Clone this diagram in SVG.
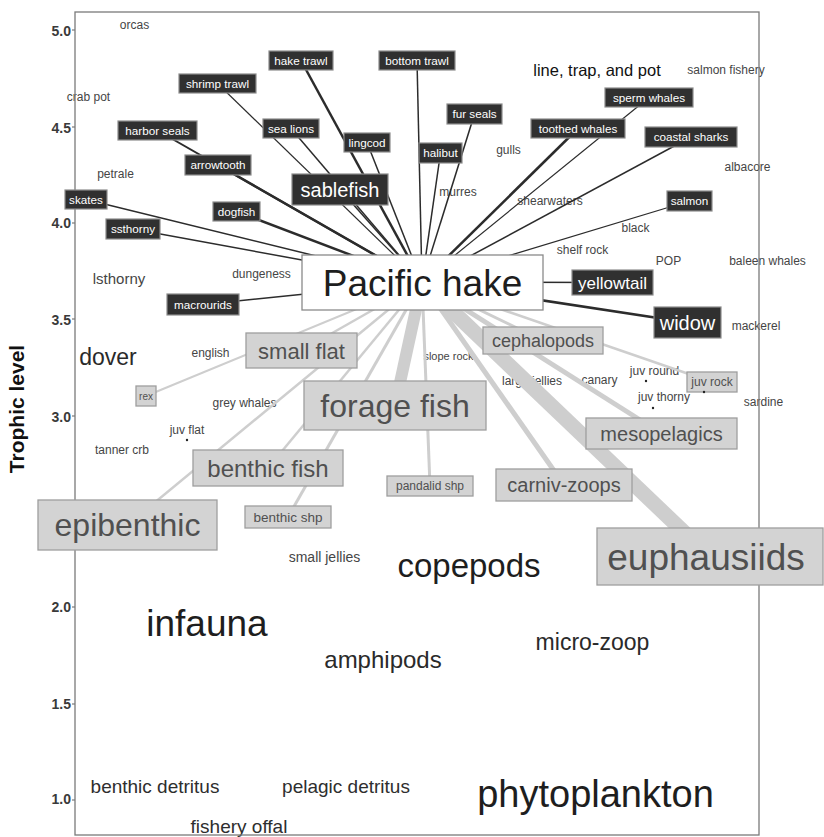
<svg xmlns="http://www.w3.org/2000/svg" width="824" height="837" viewBox="0 0 824 837">
<style>
text { font-family: "Liberation Sans", Arial, sans-serif; }
.lbl { fill:#454545; font-size:12px; text-anchor:middle; }
.big { fill:#1e1e1e; text-anchor:middle; }
.tick { fill:#3a3a3a; font-size:14px; font-weight:bold; text-anchor:end; }
.dk rect { fill:#303030; stroke:#8c8c8c; stroke-width:1.2; }
.dk text { fill:#ffffff; text-anchor:middle; }
.gr rect { fill:#d3d3d3; stroke:#9e9e9e; stroke-width:1.3; }
.gr text { fill:#505050; text-anchor:middle; }
.bl { stroke:#2c2c2c; fill:none; }
.gl { stroke:#cecece; fill:none; }
.frame { fill:none; stroke:#7a7a7a; stroke-width:1.3; }
</style>
<rect x="0" y="0" width="824" height="837" fill="#ffffff"/>

<g id="axis">
  <text class="tick" x="71" y="36">5.0</text>
  <text class="tick" x="71" y="132.5">4.5</text>
  <text class="tick" x="71" y="228">4.0</text>
  <text class="tick" x="71" y="325">3.5</text>
  <text class="tick" x="71" y="422">3.0</text>
  <text class="tick" x="71" y="612">2.0</text>
  <text class="tick" x="71" y="709">1.5</text>
  <text class="tick" x="71" y="804">1.0</text>
  <g stroke="#7a7a7a" stroke-width="1.2">
    <line x1="72" y1="30" x2="75" y2="30"/>
    <line x1="72" y1="127" x2="75" y2="127"/>
    <line x1="72" y1="223" x2="75" y2="223"/>
    <line x1="72" y1="319" x2="75" y2="319"/>
    <line x1="72" y1="416" x2="75" y2="416"/>
    <line x1="72" y1="607" x2="75" y2="607"/>
    <line x1="72" y1="704" x2="75" y2="704"/>
    <line x1="72" y1="800" x2="75" y2="800"/>
  </g>
  <text transform="translate(24,409) rotate(-90)" font-size="21" font-weight="bold" fill="#111" text-anchor="middle">Trophic level</text>
</g>

<g id="plain-labels">
  <g id="n-orcas"><text class="lbl" x="134.5" y="29">orcas</text></g>
  <g id="n-crab-pot"><text class="lbl" x="88.5" y="101">crab pot</text></g>
  <g id="n-petrale"><text class="lbl" x="115.5" y="178">petrale</text></g>
  <g id="n-lsthorny"><text class="lbl" x="119" y="284" style="font-size:15px">lsthorny</text></g>
  <g id="n-dungeness"><text class="lbl" x="261.5" y="278">dungeness</text></g>
  <g id="n-dover"><text class="lbl" x="108" y="365" style="font-size:23px;fill:#2a2a2a">dover</text></g>
  <g id="n-english"><text class="lbl" x="210.5" y="357">english</text></g>
  <g id="n-grey-whales"><text class="lbl" x="244.5" y="407">grey whales</text></g>
  <g id="n-juv-flat"><text class="lbl" x="187" y="434">juv flat</text><circle cx="187" cy="440" r="1.2" fill="#222"/></g>
  <g id="n-tanner-crb"><text class="lbl" x="122" y="454">tanner crb</text></g>
  <g id="n-gulls"><text class="lbl" x="508.5" y="154">gulls</text></g>
  <g id="n-murres"><text class="lbl" x="458" y="196">murres</text></g>
  <g id="n-shearwaters"><text class="lbl" x="550" y="205">shearwaters</text></g>
  <g id="n-salmon-fishery"><text class="lbl" x="726" y="74">salmon fishery</text></g>
  <g id="n-albacore"><text class="lbl" x="747.5" y="171">albacore</text></g>
  <g id="n-black"><text class="lbl" x="635.5" y="232">black</text></g>
  <g id="n-shelf-rock"><text class="lbl" x="582.5" y="254">shelf rock</text></g>
  <g id="n-pop"><text class="lbl" x="668.5" y="265">POP</text></g>
  <g id="n-baleen-whales"><text class="lbl" x="767.5" y="265">baleen whales</text></g>
  <g id="n-mackerel"><text class="lbl" x="756" y="330">mackerel</text></g>
  <g id="n-slope-rock"><text class="lbl" x="448.5" y="360" style="font-size:11px">slope rock</text></g>
  <g id="n-large-jellies"><text class="lbl" x="532" y="385">large jellies</text></g>
  <g id="n-canary"><text class="lbl" x="599.5" y="384">canary</text></g>
  <g id="n-juv-round"><text class="lbl" x="654.5" y="375">juv round</text><circle cx="646" cy="381" r="1.2" fill="#222"/></g>
  <g id="n-juv-thorny"><text class="lbl" x="664" y="401">juv thorny</text><circle cx="653" cy="408" r="1.2" fill="#222"/></g>
  <g id="n-sardine"><text class="lbl" x="763.5" y="406">sardine</text></g>
  <g id="n-small-jellies"><text class="lbl" x="324.5" y="562" style="font-size:14px">small jellies</text></g>
  <g id="n-copepods"><text class="big" x="469" y="577" style="font-size:33px">copepods</text></g>
  <g id="n-infauna"><text class="big" x="207" y="636" style="font-size:37px">infauna</text></g>
  <g id="n-amphipods"><text class="big" x="383" y="668" style="font-size:24px;fill:#2a2a2a">amphipods</text></g>
  <g id="n-micro-zoop"><text class="big" x="592.5" y="650" style="font-size:23px;fill:#2a2a2a">micro-zoop</text></g>
  <g id="n-benthic-detritus"><text class="big" x="155" y="793" style="font-size:19px;fill:#2e2e2e">benthic detritus</text></g>
  <g id="n-pelagic-detritus"><text class="big" x="346" y="793" style="font-size:19px;fill:#2e2e2e">pelagic detritus</text></g>
  <g id="n-fishery-offal"><text class="big" x="239" y="833" style="font-size:19px;fill:#2e2e2e">fishery offal</text></g>
  <g id="n-phytoplankton"><text class="big" x="595.5" y="807" style="font-size:38px">phytoplankton</text></g>
</g>

<rect class="frame" x="75" y="12" width="684" height="823"/>

<g id="connectors">
  <g class="gl">
    <line x1="422" y1="282" x2="301.5" y2="350.5" stroke-width="2.5"/>
    <line x1="422" y1="282" x2="146" y2="396" stroke-width="2"/>
    <line x1="422" y1="282" x2="268" y2="468" stroke-width="2.5"/>
    <line x1="422" y1="282" x2="127.5" y2="525" stroke-width="2.5"/>
    <line x1="422" y1="282" x2="288" y2="517" stroke-width="3"/>
    <line x1="422" y1="282" x2="395" y2="405.5" stroke-width="12"/>
    <line x1="422" y1="282" x2="430" y2="486" stroke-width="3"/>
    <line x1="422" y1="282" x2="543" y2="340.5" stroke-width="3"/>
    <line x1="422" y1="282" x2="712" y2="382" stroke-width="2.5"/>
    <line x1="422" y1="282" x2="661.5" y2="433.5" stroke-width="5"/>
    <line x1="422" y1="282" x2="564" y2="485" stroke-width="5"/>
    <line x1="422" y1="282" x2="709.5" y2="556.5" stroke-width="15"/>
  </g>
  <g class="bl">
    <line x1="422" y1="282" x2="301" y2="60.5" stroke-width="2.5"/>
    <line x1="422" y1="282" x2="417" y2="60.5" stroke-width="1.5"/>
    <line x1="422" y1="282" x2="217.5" y2="83.5" stroke-width="1.2"/>
    <line x1="422" y1="282" x2="157.5" y2="130.5" stroke-width="2"/>
    <line x1="422" y1="282" x2="291" y2="128.5" stroke-width="1.5"/>
    <line x1="422" y1="282" x2="367" y2="142.5" stroke-width="1.5"/>
    <line x1="422" y1="282" x2="218" y2="165" stroke-width="2.5"/>
    <line x1="422" y1="282" x2="340" y2="189.5" stroke-width="1.5"/>
    <line x1="422" y1="282" x2="86" y2="199.5" stroke-width="1.5"/>
    <line x1="422" y1="282" x2="236.5" y2="211.5" stroke-width="2.5"/>
    <line x1="422" y1="282" x2="133" y2="229" stroke-width="1.5"/>
    <line x1="422" y1="282" x2="474.5" y2="114" stroke-width="1.5"/>
    <line x1="422" y1="282" x2="440.5" y2="153" stroke-width="1.5"/>
    <line x1="422" y1="282" x2="578" y2="128.5" stroke-width="2.5"/>
    <line x1="422" y1="282" x2="649" y2="97.5" stroke-width="1.2"/>
    <line x1="422" y1="282" x2="691" y2="137" stroke-width="1.5"/>
    <line x1="422" y1="282" x2="689.5" y2="201" stroke-width="1.2"/>
    <line x1="422" y1="282" x2="203" y2="304.5" stroke-width="1.5"/>
    <line x1="422" y1="282" x2="612.5" y2="282.5" stroke-width="1.5"/>
    <line x1="422" y1="282" x2="687.5" y2="322.5" stroke-width="2.5"/>
  </g>
</g>

<g id="prey-nodes">
  <g id="n-small-flat" class="gr"><rect x="246" y="333" width="111" height="35"/><text x="301.5" y="358.5" style="font-size:22px">small flat</text></g>
  <g id="n-rex" class="gr"><rect x="136" y="386" width="20" height="20"/><text x="146" y="399.5" style="font-size:10px">rex</text></g>
  <g id="n-forage-fish" class="gr"><rect x="304" y="381" width="182" height="49"/><text x="395" y="417" style="font-size:32px">forage fish</text></g>
  <g id="n-benthic-fish" class="gr"><rect x="193" y="450" width="150" height="36"/><text x="268" y="476.5" style="font-size:24px">benthic fish</text></g>
  <g id="n-epibenthic" class="gr"><rect x="38" y="500" width="179" height="50"/><text x="127.5" y="536" style="font-size:32px">epibenthic</text></g>
  <g id="n-benthic-shp" class="gr"><rect x="245" y="506" width="86" height="22"/><text x="288" y="521.8" style="font-size:13.5px">benthic shp</text></g>
  <g id="n-pandalid-shp" class="gr"><rect x="387" y="476" width="86" height="20"/><text x="430" y="490.3" style="font-size:12px">pandalid shp</text></g>
  <g id="n-cephalopods" class="gr"><rect x="483" y="327" width="120" height="27"/><text x="543" y="347" style="font-size:18px">cephalopods</text></g>
  <g id="n-juv-rock" class="gr"><rect x="687" y="372" width="50" height="20"/><text x="712" y="386.3" style="font-size:12px">juv rock</text><circle cx="704" cy="392" r="1.2" fill="#222"/></g>
  <g id="n-mesopelagics" class="gr"><rect x="586" y="418" width="151" height="31"/><text x="661.5" y="440.5" style="font-size:20px">mesopelagics</text></g>
  <g id="n-carniv-zoops" class="gr"><rect x="496" y="469" width="136" height="32"/><text x="564" y="492" style="font-size:20px">carniv-zoops</text></g>
  <g id="n-euphausiids" class="gr"><rect x="597" y="528" width="226" height="57"/><text x="706" y="570" style="font-size:37px">euphausiids</text></g>
</g>

<g id="predator-nodes">
  <g id="n-hake-trawl" class="dk"><rect x="269" y="51" width="64" height="19"/><text x="301" y="64.7" style="font-size:11.7px">hake trawl</text></g>
  <g id="n-bottom-trawl" class="dk"><rect x="379" y="51" width="76" height="19"/><text x="417" y="64.7" style="font-size:11.7px">bottom trawl</text></g>
  <g id="n-line-trap-pot"><rect x="517" y="52" width="161" height="36" fill="#ffffff"/><text x="597" y="75.5" font-size="16.5" fill="#111" text-anchor="middle">line, trap, and pot</text></g>
  <g id="n-shrimp-trawl" class="dk"><rect x="179" y="74" width="77" height="19"/><text x="217.5" y="87.7" style="font-size:11.7px">shrimp trawl</text></g>
  <g id="n-harbor-seals" class="dk"><rect x="118" y="121" width="79" height="19"/><text x="157.5" y="134.7" style="font-size:11.7px">harbor seals</text></g>
  <g id="n-sea-lions" class="dk"><rect x="263" y="119" width="56" height="19"/><text x="291" y="132.7" style="font-size:11.7px">sea lions</text></g>
  <g id="n-lingcod" class="dk"><rect x="344" y="133" width="46" height="19"/><text x="367" y="146.7" style="font-size:11.7px">lingcod</text></g>
  <g id="n-arrowtooth" class="dk"><rect x="185" y="155" width="66" height="20"/><text x="218" y="169.2" style="font-size:11.7px">arrowtooth</text></g>
  <g id="n-sablefish" class="dk"><rect x="292" y="174" width="96" height="31"/><text x="340" y="196.7" style="font-size:20px">sablefish</text></g>
  <g id="n-skates" class="dk"><rect x="65" y="190" width="42" height="19"/><text x="86" y="203.7" style="font-size:11.7px">skates</text></g>
  <g id="n-dogfish" class="dk"><rect x="213" y="202" width="47" height="19"/><text x="236.5" y="215.7" style="font-size:11.7px">dogfish</text></g>
  <g id="n-ssthorny" class="dk"><rect x="106" y="219" width="54" height="20"/><text x="133" y="233.2" style="font-size:11.7px">ssthorny</text></g>
  <g id="n-fur-seals" class="dk"><rect x="447" y="104" width="55" height="20"/><text x="474.5" y="118.2" style="font-size:11.7px">fur seals</text></g>
  <g id="n-halibut" class="dk"><rect x="419" y="143" width="43" height="20"/><text x="440.5" y="157.2" style="font-size:11.7px">halibut</text></g>
  <g id="n-toothed-whales" class="dk"><rect x="531" y="119" width="94" height="19"/><text x="578" y="132.7" style="font-size:11.7px">toothed whales</text></g>
  <g id="n-sperm-whales" class="dk"><rect x="605" y="88" width="88" height="19"/><text x="649" y="101.7" style="font-size:11.7px">sperm whales</text></g>
  <g id="n-coastal-sharks" class="dk"><rect x="645" y="127" width="92" height="20"/><text x="691" y="141.2" style="font-size:11.7px">coastal sharks</text></g>
  <g id="n-salmon" class="dk"><rect x="667" y="191" width="45" height="20"/><text x="689.5" y="205.2" style="font-size:11.7px">salmon</text></g>
  <g id="n-macrourids" class="dk"><rect x="167" y="294" width="72" height="21"/><text x="203" y="308.9" style="font-size:11.7px">macrourids</text></g>
  <g id="n-yellowtail" class="dk"><rect x="572" y="270" width="81" height="25"/><text x="612.5" y="288.5" style="font-size:17px">yellowtail</text></g>
  <g id="n-widow" class="dk"><rect x="654" y="307" width="67" height="31"/><text x="687.5" y="329.5" style="font-size:20px">widow</text></g>
</g>

<g id="n-pacific-hake">
  <rect x="302" y="255" width="241" height="55" fill="#ffffff" stroke="#8a8a8a" stroke-width="1.3"/>
  <text class="big" x="422.5" y="296" style="font-size:37px">Pacific hake</text>
</g>
</svg>
